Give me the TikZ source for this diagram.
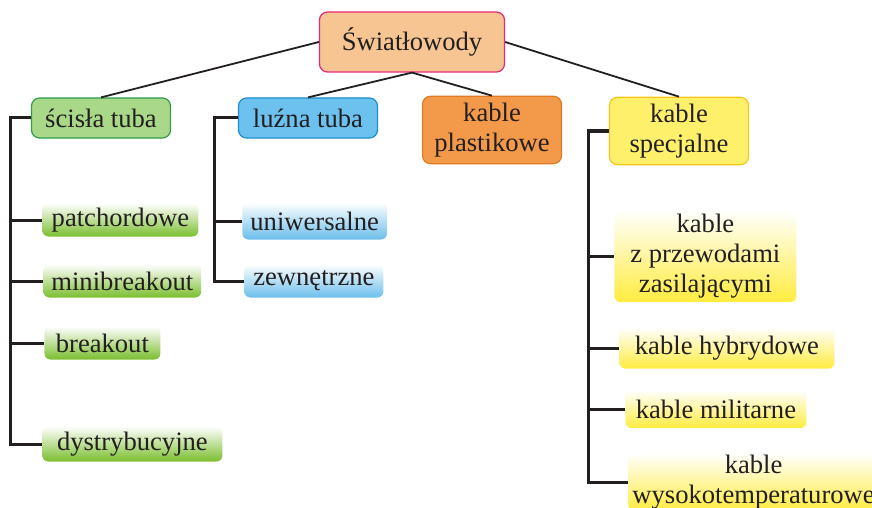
\documentclass[tikz,border=0pt]{standalone}
\usepackage{fontspec}
\setmainfont{Liberation Serif}
\usetikzlibrary{positioning}
\definecolor{textDark}{RGB}{35,31,32}
\definecolor{lineDark}{RGB}{35,31,32}
\definecolor{rootFill}{RGB}{246,197,146}
\definecolor{rootBorder}{RGB}{229,40,122}
\definecolor{tightFill}{RGB}{168,216,136}
\definecolor{tightBorder}{RGB}{46,158,75}
\definecolor{looseFill}{RGB}{109,193,238}
\definecolor{looseBorder}{RGB}{31,140,203}
\definecolor{plastFill}{RGB}{242,154,74}
\definecolor{plastBorder}{RGB}{224,123,37}
\definecolor{specFill}{RGB}{255,240,107}
\definecolor{specBorder}{RGB}{245,197,24}
\definecolor{leafGreen}{RGB}{122,190,46}
\definecolor{leafBlue}{RGB}{107,190,235}
\definecolor{leafYellow}{RGB}{255,236,63}

\tikzset{
  base/.style={text=textDark, font=\fontsize{13.3}{15}\selectfont, align=center},
  head/.style={base, draw, rounded corners=4pt, line width=0.6pt, minimum width=69.5pt, minimum height=20pt},
  leaf/.style={base, anchor=west, rounded corners=3pt, inner xsep=4pt, inner ysep=1pt, minimum height=16.5pt},
  greenleaf/.style={leaf, top color=white, bottom color=leafGreen},
  blueleaf/.style={leaf, top color=white, bottom color=leafBlue},
  yellowleaf/.style={leaf, top color=white, bottom color=leafYellow},
  link/.style={draw=lineDark, line width=0.9pt},
  branch/.style={draw=lineDark, line width=1.5pt}
}

\begin{document}
\begin{tikzpicture}[x=0.5pt, y=-0.5pt]
            \useasboundingbox (0,0) rectangle (872,508);
            % Nodes
            \node[head, draw=rootBorder, fill=rootFill, minimum width=92.5pt, minimum height=30pt] (swiatlo) at (412,42) {Światłowody};
            \node[head, draw=tightBorder, fill=tightFill] (scisla) at (101,118) {ścisła tuba};
            \node[head, draw=looseBorder, fill=looseFill] (luzna) at (308,118) {luźna tuba};
            \node[head, draw=plastBorder, fill=plastFill, minimum height=32pt] (plast) at (492,130) {kable\\plastikowe};
            \node[head, draw=specBorder, fill=specFill, minimum height=31.5pt] (spec) at (679,131) {kable\\specjalne};

            % Leaves
            \node[greenleaf, minimum width=78pt] (patch) at (42,220) {patchordowe};
            \node[greenleaf, minimum width=77.5pt] (mini) at (43,281) {minibreakout};
            \node[greenleaf, minimum width=58pt] (brk) at (44,343) {breakout};
            \node[greenleaf, minimum width=90pt, minimum height=17.5pt] (dystr) at (42,444) {dystrybucyjne};
            \node[blueleaf, minimum width=70.5pt, minimum height=18.5pt] (uniw) at (242,221) {uniwersalne};
            \node[blueleaf, minimum width=69.5pt] (zewn) at (244,281) {zewnętrzne};
            \node[yellowleaf, minimum width=91pt, minimum height=46pt] (zasil) at (614,256) {kable\\z przewodami\\zasilającymi};
            \node[yellowleaf, minimum width=107.5pt, minimum height=20.5pt] (hybr) at (619,348) {kable hybrydowe};
            \node[yellowleaf, minimum width=90.5pt, minimum height=19pt] (milit) at (625,409) {kable militarne};
            \node[yellowleaf, inner xsep=2pt, minimum height=27pt] (wysoko) at (628,482) {kable\\wysokotemperaturowe};

            % Connectors
            \draw[link] (swiatlo.west) -- (scisla.north);
            \draw[link] (swiatlo.south) -- (luzna.north);
            \draw[link] (swiatlo.south) -- (plast.north);
            \draw[link] (swiatlo.east) -- (spec.north);
            \foreach \leaf in {patch, mini, brk, dystr}
              \draw[branch] (scisla.west) -- ++(-20,0) |- (\leaf.west);
            \foreach \leaf in {uniw, zewn}
              \draw[branch] (luzna.west) -- ++(-23,0) |- (\leaf.west);
            \foreach \leaf in {zasil, hybr, milit, wysoko}
              \draw[branch] (spec.west) -- ++(-20,0) |- (\leaf.west);
        \end{tikzpicture}
\end{document}
